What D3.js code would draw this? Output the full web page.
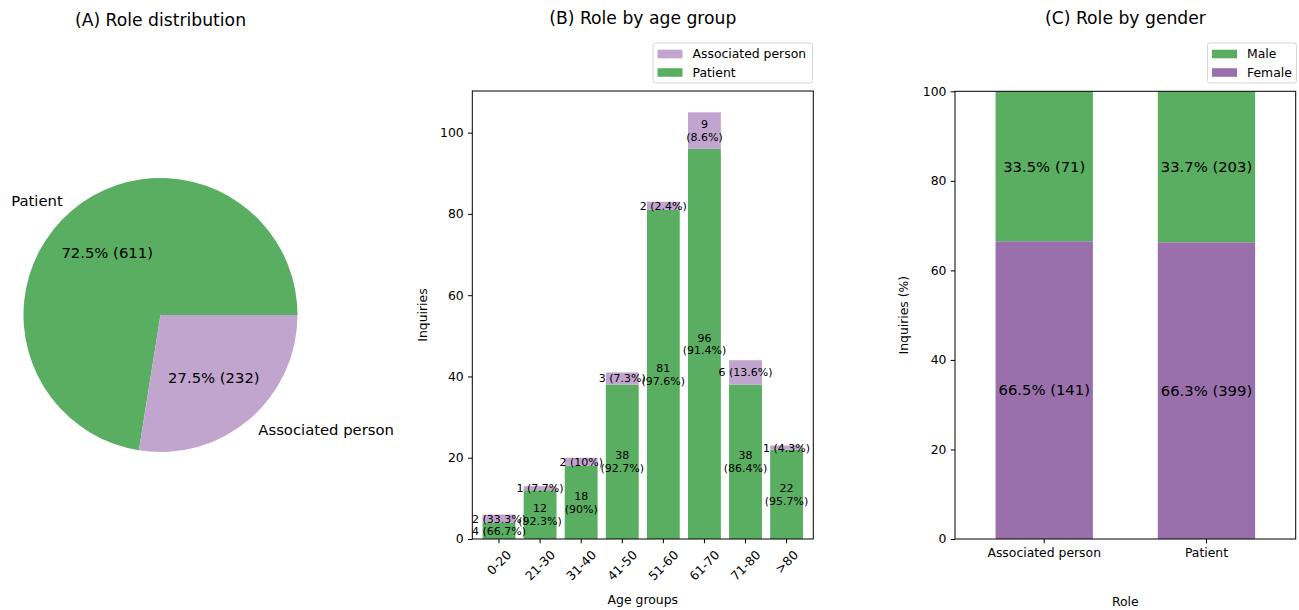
<!DOCTYPE html>
<html>
<head>
<meta charset="utf-8">
<script src="https://cdn.jsdelivr.net/npm/d3@7/dist/d3.min.js"></script>
<style>
  html, body { margin: 0; padding: 0; background: #fff; }
  svg { display: block; font-family: "DejaVu Sans", sans-serif; }
</style>
</head>
<body>
<svg id="chart" width="1299" height="610"></svg>
<script>
// ---- data ----
const roles = ["Patient", "Associated person"];
const roleCounts = [611, 232];

const ageGroups = ["0-20", "21-30", "31-40", "41-50", "51-60", "61-70", "71-80", ">80"];
const patientByAge = [4, 12, 18, 38, 81, 96, 38, 22];
const associatedByAge = [2, 1, 2, 3, 2, 9, 6, 1];

const genderRoles = ["Associated person", "Patient"];
const femaleByRole = [141, 399];
const maleByRole = [71, 203];

const countTicks = [0, 20, 40, 60, 80, 100];
const pctTicks = [0, 20, 40, 60, 80, 100];

// ---- styling ----
const GREEN = "#5aae61", LILAC = "#c2a5cf", PURPLE = "#9970ab";
const FS_TITLE = 17.2, FS_BIG = 14.8, FS_TICK = 12.4, FS_BAR = 11;

const svg = d3.select("#chart");
const fmt1 = d3.format(".1f");
const fmtPct = v => String(Math.round(v * 10) / 10);

function title(x, y, txt) {
  svg.append("text").attr("x", x).attr("y", y).attr("text-anchor", "middle")
    .attr("font-size", FS_TITLE).attr("fill", "#000").text(txt);
}

function legend(x, y, w, items) {
  const g = svg.append("g").attr("transform", `translate(${x},${y})`);
  g.append("rect").attr("width", w).attr("height", 40).attr("rx", 2.5)
    .attr("fill", "#fff").attr("stroke", "#d6d6d6").attr("stroke-width", 1);
  items.forEach((it, i) => {
    const cy = 11 + i * 18.5;
    g.append("rect").attr("x", 4.5).attr("y", cy - 4.3).attr("width", 25).attr("height", 8.6)
      .attr("fill", it.color);
    g.append("text").attr("x", 39.5).attr("y", cy).attr("dy", "0.36em")
      .attr("font-size", FS_TICK).attr("fill", "#000").text(it.label);
  });
}

function yAxis(g, scale, ticks) {
  const ax = d3.axisLeft(scale).tickValues(ticks).tickSize(4.3).tickPadding(4.3);
  g.call(ax);
  g.select(".domain").remove();
  g.selectAll(".tick line").attr("stroke", "#000").attr("stroke-width", 1);
  g.selectAll(".tick text").attr("font-size", FS_TICK).attr("font-family", "DejaVu Sans").attr("fill", "#000");
}

function frame(l, t, r, b) {
  svg.append("rect").attr("x", l).attr("y", t).attr("width", r - l).attr("height", b - t)
    .attr("fill", "none").attr("stroke", "#000").attr("stroke-width", 1);
}

// ================= (A) Role distribution =================
title(160.5, 25.5, "(A) Role distribution");
{
  const cx = 160.5, cy = 315, R = 137;
  const total = d3.sum(roleCounts);
  // counter-clockwise from 3 o'clock, first slice first
  let theta = 0;
  const slices = roleCounts.map((v, i) => {
    const a0 = theta, a1 = theta + v / total * 2 * Math.PI;
    theta = a1;
    return { role: roles[i], value: v, a0, a1 };
  });
  const arc = d3.arc().innerRadius(0).outerRadius(R);
  const gp = svg.append("g").attr("transform", `translate(${cx},${cy})`);
  const colors = [GREEN, LILAC];
  slices.forEach((s, i) => {
    gp.append("path")
      .attr("d", arc({ startAngle: Math.PI / 2 - s.a1, endAngle: Math.PI / 2 - s.a0 }))
      .attr("fill", colors[i]);
    const mid = (s.a0 + s.a1) / 2;
    const lx = 1.1 * R * Math.cos(mid), ly = -1.1 * R * Math.sin(mid);
    gp.append("text").attr("x", lx).attr("y", ly).attr("dy", "0.36em")
      .attr("text-anchor", lx < 0 ? "end" : "start")
      .attr("font-size", FS_BIG).attr("fill", "#000").text(s.role);
    const px = 0.6 * R * Math.cos(mid), py = -0.6 * R * Math.sin(mid);
    gp.append("text").attr("x", px).attr("y", py).attr("dy", "0.36em")
      .attr("text-anchor", "middle").attr("font-size", FS_BIG).attr("fill", "#000")
      .text(`${fmt1(s.value / total * 100)}% (${s.value})`);
  });
}

// ================= (B) Role by age group =================
title(642.8, 24, "(B) Role by age group");
{
  const L = 472.3, R = 813.3, T = 91, B = 539;
  const x = d3.scaleLinear().domain([-0.65, ageGroups.length - 1 + 0.65]).range([L, R]);
  const y = d3.scaleLinear().domain([0, 110.25]).range([B, T]);
  const bw = x(0.8) - x(0);

  const rows = ageGroups.map((g, i) => ({
    g, i, p: patientByAge[i], a: associatedByAge[i], tot: patientByAge[i] + associatedByAge[i]
  }));

  const gb = svg.append("g");
  // patient segments
  gb.selectAll("rect.pat").data(rows).join("rect").attr("class", "pat")
    .attr("x", d => x(d.i) - bw / 2).attr("width", bw)
    .attr("y", d => y(d.p)).attr("height", d => y(0) - y(d.p))
    .attr("fill", GREEN);
  // associated segments stacked on top
  gb.selectAll("rect.ass").data(rows).join("rect").attr("class", "ass")
    .attr("x", d => x(d.i) - bw / 2).attr("width", bw)
    .attr("y", d => y(d.tot)).attr("height", d => y(d.p) - y(d.tot))
    .attr("fill", LILAC);

  // segment labels: two lines when the segment is tall enough, otherwise one
  function segLabel(xc, v0, v1, count, tot) {
    const cyc = (y(v0) + y(v1)) / 2;
    const pct = fmtPct(count / tot * 100);
    const t = gb.append("text").attr("x", xc).attr("text-anchor", "middle")
      .attr("font-size", FS_BAR).attr("fill", "#000");
    if (y(v0) - y(v1) >= 30) {
      t.append("tspan").attr("x", xc).attr("y", cyc - 6.4).attr("dy", "0.36em").text(count);
      t.append("tspan").attr("x", xc).attr("y", cyc + 6.4).attr("dy", "0.36em").text(`(${pct}%)`);
    } else {
      t.attr("y", cyc).attr("dy", "0.36em").text(`${count} (${pct}%)`);
    }
  }
  rows.forEach(d => {
    segLabel(x(d.i), 0, d.p, d.p, d.tot);
    segLabel(x(d.i), d.p, d.tot, d.a, d.tot);
  });

  frame(L, T, R, B);
  const gy = svg.append("g").attr("transform", `translate(${L},0)`);
  yAxis(gy, y, countTicks);

  // x ticks with 45° labels centred under each tick
  const gx = svg.append("g");
  ageGroups.forEach((g, i) => {
    const xt = x(i);
    gx.append("line").attr("x1", xt).attr("x2", xt).attr("y1", B).attr("y2", B + 4.3)
      .attr("stroke", "#000").attr("stroke-width", 1);
    const t = gx.append("text").attr("text-anchor", "middle").attr("dy", "0.36em")
      .attr("font-size", FS_TICK).attr("fill", "#000").text(g);
    const w = t.node().getComputedTextLength();
    const h = FS_TICK * 1.1;
    const half = (w + h) / (2 * Math.SQRT2);
    t.attr("transform", `translate(${xt},${B + 8.8 + half}) rotate(-45)`);
  });

  svg.append("text").attr("x", (L + R) / 2).attr("y", 603.5).attr("text-anchor", "middle")
    .attr("font-size", FS_TICK).attr("fill", "#000").text("Age groups");
  svg.append("text").attr("transform", `translate(426.5,${(T + B) / 2}) rotate(-90)`)
    .attr("text-anchor", "middle").attr("font-size", FS_TICK).attr("fill", "#000").text("Inquiries");

  legend(653, 43, 159.5, [{ label: "Associated person", color: LILAC }, { label: "Patient", color: GREEN }]);
}

// ================= (C) Role by gender =================
title(1125.5, 24, "(C) Role by gender");
{
  const L = 955, R = 1295.7, T = 91.3, B = 539;
  const x = d3.scaleLinear().domain([-0.55, genderRoles.length - 1 + 0.55]).range([L, R]);
  const y = d3.scaleLinear().domain([0, 100]).range([B, T]);
  const bw = x(0.6) - x(0);

  const rows = genderRoles.map((r, i) => {
    const tot = femaleByRole[i] + maleByRole[i];
    return { r, i, f: femaleByRole[i], m: maleByRole[i], fp: femaleByRole[i] / tot * 100, mp: maleByRole[i] / tot * 100 };
  });

  const gc = svg.append("g");
  gc.selectAll("rect.fem").data(rows).join("rect").attr("class", "fem")
    .attr("x", d => x(d.i) - bw / 2).attr("width", bw)
    .attr("y", d => y(d.fp)).attr("height", d => y(0) - y(d.fp))
    .attr("fill", PURPLE);
  gc.selectAll("rect.mal").data(rows).join("rect").attr("class", "mal")
    .attr("x", d => x(d.i) - bw / 2).attr("width", bw)
    .attr("y", d => y(d.fp + d.mp)).attr("height", d => y(d.fp) - y(d.fp + d.mp))
    .attr("fill", GREEN);

  rows.forEach(d => {
    gc.append("text").attr("x", x(d.i)).attr("y", y(d.fp / 2)).attr("dy", "0.36em")
      .attr("text-anchor", "middle").attr("font-size", FS_BIG).attr("fill", "#000")
      .text(`${fmt1(d.fp)}% (${d.f})`);
    gc.append("text").attr("x", x(d.i)).attr("y", y(d.fp + d.mp / 2)).attr("dy", "0.36em")
      .attr("text-anchor", "middle").attr("font-size", FS_BIG).attr("fill", "#000")
      .text(`${fmt1(d.mp)}% (${d.m})`);
  });

  frame(L, T, R, B);
  const gy = svg.append("g").attr("transform", `translate(${L},0)`);
  yAxis(gy, y, pctTicks);

  genderRoles.forEach((r, i) => {
    svg.append("line").attr("x1", x(i)).attr("x2", x(i)).attr("y1", B).attr("y2", B + 4.3)
      .attr("stroke", "#000").attr("stroke-width", 1);
    svg.append("text").attr("x", x(i)).attr("y", 557).attr("text-anchor", "middle")
      .attr("font-size", FS_TICK).attr("fill", "#000").text(r);
  });

  svg.append("text").attr("x", (L + R) / 2).attr("y", 606).attr("text-anchor", "middle")
    .attr("font-size", FS_TICK).attr("fill", "#000").text("Role");
  svg.append("text").attr("transform", `translate(907.5,${(T + B) / 2}) rotate(-90)`)
    .attr("text-anchor", "middle").attr("font-size", FS_TICK).attr("fill", "#000").text("Inquiries (%)");

  legend(1207.5, 43, 89, [{ label: "Male", color: GREEN }, { label: "Female", color: PURPLE }]);
}
</script>
</body>
</html>
